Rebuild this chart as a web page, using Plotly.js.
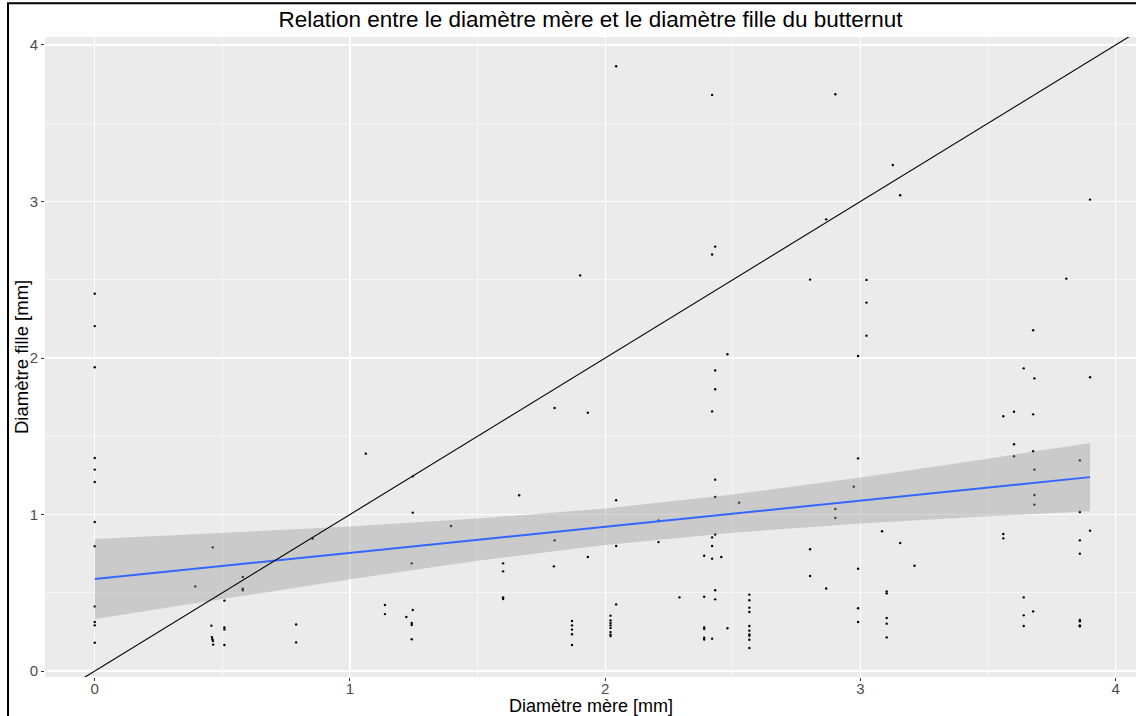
<!DOCTYPE html>
<html>
<head>
<meta charset="utf-8">
<script src="https://cdn.plot.ly/plotly-3.0.1.min.js"></script>
<style>
  html, body { margin: 0; padding: 0; background: #ffffff; overflow: hidden; }
  #chart { width: 1136px; height: 716px; }
</style>
</head>
<body>
<div id="chart"></div>
<script>
// Mesures : diamètre de la tige mère et diamètre de la tige fille (mm)
const diamMere = [
  0, 0, 0, 0, 0, 0, 0, 0, 0, 0, 0, 0,
  0.394, 0.462, 0.457, 0.459, 0.461, 0.463, 0.464,
  0.508, 0.508, 0.508, 0.508,
  0.580, 0.580, 0.580,
  0.789, 0.789, 0.854, 1.062,
  1.137, 1.137, 1.221,
  1.242, 1.242, 1.242, 1.242,
  1.246, 1.246, 1.246,
  1.396,
  1.600, 1.600, 1.600, 1.600,
  1.663, 1.799, 1.802, 1.802,
  1.870, 1.870, 1.870, 1.870, 1.870,
  1.902, 1.932, 1.932,
  2.021, 2.021, 2.021, 2.021, 2.021, 2.021, 2.021, 2.021,
  2.043, 2.043, 2.043, 2.043,
  2.209, 2.209, 2.291,
  2.388, 2.388, 2.388, 2.388, 2.388, 2.388,
  2.419, 2.419, 2.419, 2.419, 2.419, 2.419, 2.419,
  2.431, 2.431, 2.431, 2.431, 2.431, 2.431, 2.431, 2.431,
  2.455, 2.479, 2.479, 2.525,
  2.565, 2.565, 2.565, 2.565, 2.565, 2.565, 2.565, 2.565, 2.565, 2.565,
  2.803, 2.803, 2.803,
  2.866, 2.866,
  2.902, 2.902, 2.902,
  2.974,
  2.991, 2.991, 2.991, 2.991, 2.991,
  3.024, 3.024, 3.024,
  3.085,
  3.103, 3.103, 3.103, 3.103, 3.103,
  3.127, 3.156, 3.156, 3.212,
  3.560, 3.560, 3.560,
  3.602, 3.602, 3.602,
  3.640, 3.640, 3.640, 3.640,
  3.677, 3.677, 3.677, 3.677,
  3.682, 3.682, 3.682, 3.682,
  3.807,
  3.860, 3.860, 3.860, 3.860, 3.860, 3.860, 3.860, 3.860,
  3.900, 3.900, 3.900
];
const diamFille = [
  2.411, 2.204, 1.941, 1.361, 1.287, 1.208, 0.952, 0.797, 0.413, 0.313, 0.292, 0.181,
  0.541, 0.790, 0.290, 0.217, 0.203, 0.192, 0.169,
  0.450, 0.279, 0.266, 0.166,
  0.601, 0.526, 0.516,
  0.298, 0.183, 0.846, 1.389,
  0.422, 0.364, 0.345,
  0.688, 0.307, 0.294, 0.203,
  1.244, 1.012, 0.390,
  0.927,
  0.688, 0.637, 0.471, 0.460,
  1.123, 0.669, 1.681, 0.835,
  0.320, 0.292, 0.265, 0.235, 0.166,
  2.528, 1.651, 0.729,
  0.354, 0.324, 0.307, 0.292, 0.275, 0.249, 0.233, 0.224,
  3.864, 1.091, 0.799, 0.426,
  0.963, 0.824, 0.471,
  0.737, 0.475, 0.279, 0.268, 0.213, 0.202,
  3.681, 2.661, 1.659, 0.854, 0.799, 0.718, 0.207,
  2.712, 1.921, 1.800, 1.223, 1.112, 0.872, 0.516, 0.458,
  0.729, 2.024, 0.273, 1.076,
  0.488, 0.452, 0.405, 0.377, 0.288, 0.258, 0.234, 0.226, 0.200, 0.147,
  2.501, 0.778, 0.607,
  2.886, 0.527,
  3.685, 1.035, 0.978,
  1.178,
  2.013, 1.359, 0.654, 0.401, 0.313,
  2.499, 2.354, 2.143,
  0.893,
  0.509, 0.496, 0.339, 0.303, 0.215,
  3.233, 3.040, 0.818, 0.673,
  1.628, 0.876, 0.848,
  1.657, 1.449, 1.372,
  1.934, 0.471, 0.356, 0.288,
  2.177, 1.640, 1.404, 0.381,
  1.870, 1.287, 1.125, 1.063,
  2.507,
  1.346, 1.016, 0.835, 0.750, 0.326, 0.318, 0.292, 0.286,
  3.012, 1.877, 0.897
];

// Droite de régression linéaire et son intervalle de confiance à 95 %
const fitX     = [0, 0.5, 1, 1.5, 2, 2.5, 3, 3.5, 3.9];
const fitY     = [0.588, 0.672, 0.755, 0.839, 0.922, 1.006, 1.089, 1.173, 1.239];
const fitUpper = [0.843, 0.881, 0.923, 0.974, 1.039, 1.128, 1.236, 1.357, 1.457];
const fitLower = [0.333, 0.462, 0.587, 0.704, 0.805, 0.884, 0.942, 0.989, 1.021];

// Droite de référence y = x
const refIntercept = 0;
const refSlope = 1;

const xTicks = [0, 1, 2, 3, 4];
const yTicks = [0, 1, 2, 3, 4];

const xRange = [-0.195, 4.080];
const yRange = [-0.038, 4.051];

const titre = 'Relation entre le diamètre mère et le diamètre fille du butternut';
const titreX = 'Diamètre mère [mm]';
const titreY = 'Diamètre fille [mm]';

const refX = [xRange[0], xRange[1]];
const refY = refX.map(v => refIntercept + refSlope * v);

const police = 'Liberation Sans, Arial, sans-serif';

const traces = [
  {
    x: diamMere, y: diamFille, type: 'scatter', mode: 'markers',
    marker: { color: '#000000', size: 2.4 },
    hoverinfo: 'x+y', showlegend: false
  },
  {
    x: fitX, y: fitLower, type: 'scatter', mode: 'lines',
    line: { width: 0, color: 'rgba(0,0,0,0)' },
    hoverinfo: 'skip', showlegend: false
  },
  {
    x: fitX, y: fitUpper, type: 'scatter', mode: 'lines',
    fill: 'tonexty', fillcolor: 'rgba(153,153,153,0.4)',
    line: { width: 0, color: 'rgba(0,0,0,0)' },
    hoverinfo: 'skip', showlegend: false
  },
  {
    x: fitX, y: fitY, type: 'scatter', mode: 'lines',
    line: { color: '#3366FF', width: 2 },
    showlegend: false
  },
  {
    x: refX, y: refY, type: 'scatter', mode: 'lines',
    line: { color: '#000000', width: 1.1 },
    hoverinfo: 'skip', showlegend: false
  }
];

const axisCommon = {
  showgrid: true, gridcolor: '#FFFFFF', gridwidth: 1.1,
  zeroline: false, showline: false,
  ticks: 'outside', ticklen: 3, tickwidth: 1, tickcolor: '#333333',
  tickfont: { family: police, size: 15, color: '#4D4D4D' },
  minor: { dtick: 0.5, tick0: 0, showgrid: true, gridcolor: '#FFFFFF', gridwidth: 0.55, ticks: '' }
};

const layout = {
  width: 1136, height: 716,
  margin: { l: 45, r: 0, t: 37, b: 39 },
  paper_bgcolor: '#FFFFFF', plot_bgcolor: '#EBEBEB',
  font: { family: police, color: '#000000' },
  title: {
    text: titre,
    font: { size: 22.5, color: '#000000' },
    x: 0.5, xref: 'paper', xanchor: 'center',
    y: 0.973, yref: 'container', yanchor: 'middle'
  },
  xaxis: Object.assign({}, axisCommon, {
    range: xRange, tickvals: xTicks, ticktext: xTicks.map(String),
    ticklen: 3, ticklabelstandoff: -5
  }),
  yaxis: Object.assign({}, axisCommon, {
    range: yRange, tickvals: yTicks, ticktext: yTicks.map(String)
  }),
  annotations: [
    {
      text: titreX, xref: 'paper', yref: 'paper', x: 0.5, y: -0.0452,
      xanchor: 'center', yanchor: 'middle', showarrow: false,
      font: { family: police, size: 18, color: '#000000' }
    },
    {
      text: titreY, xref: 'paper', yref: 'paper', x: -0.022, y: 0.5,
      xanchor: 'center', yanchor: 'middle', textangle: -90, showarrow: false,
      font: { family: police, size: 18.5, color: '#000000' }
    }
  ],
  shapes: [
    {
      type: 'rect', xref: 'paper', yref: 'paper',
      x0: -0.0339, x1: 1.05, y0: -0.08, y1: 1.0526,
      line: { color: '#000000', width: 2 }, fillcolor: 'rgba(0,0,0,0)',
      layer: 'above'
    }
  ]
};

Plotly.newPlot('chart', traces, layout, { displayModeBar: false, staticPlot: true });
</script>
</body>
</html>
